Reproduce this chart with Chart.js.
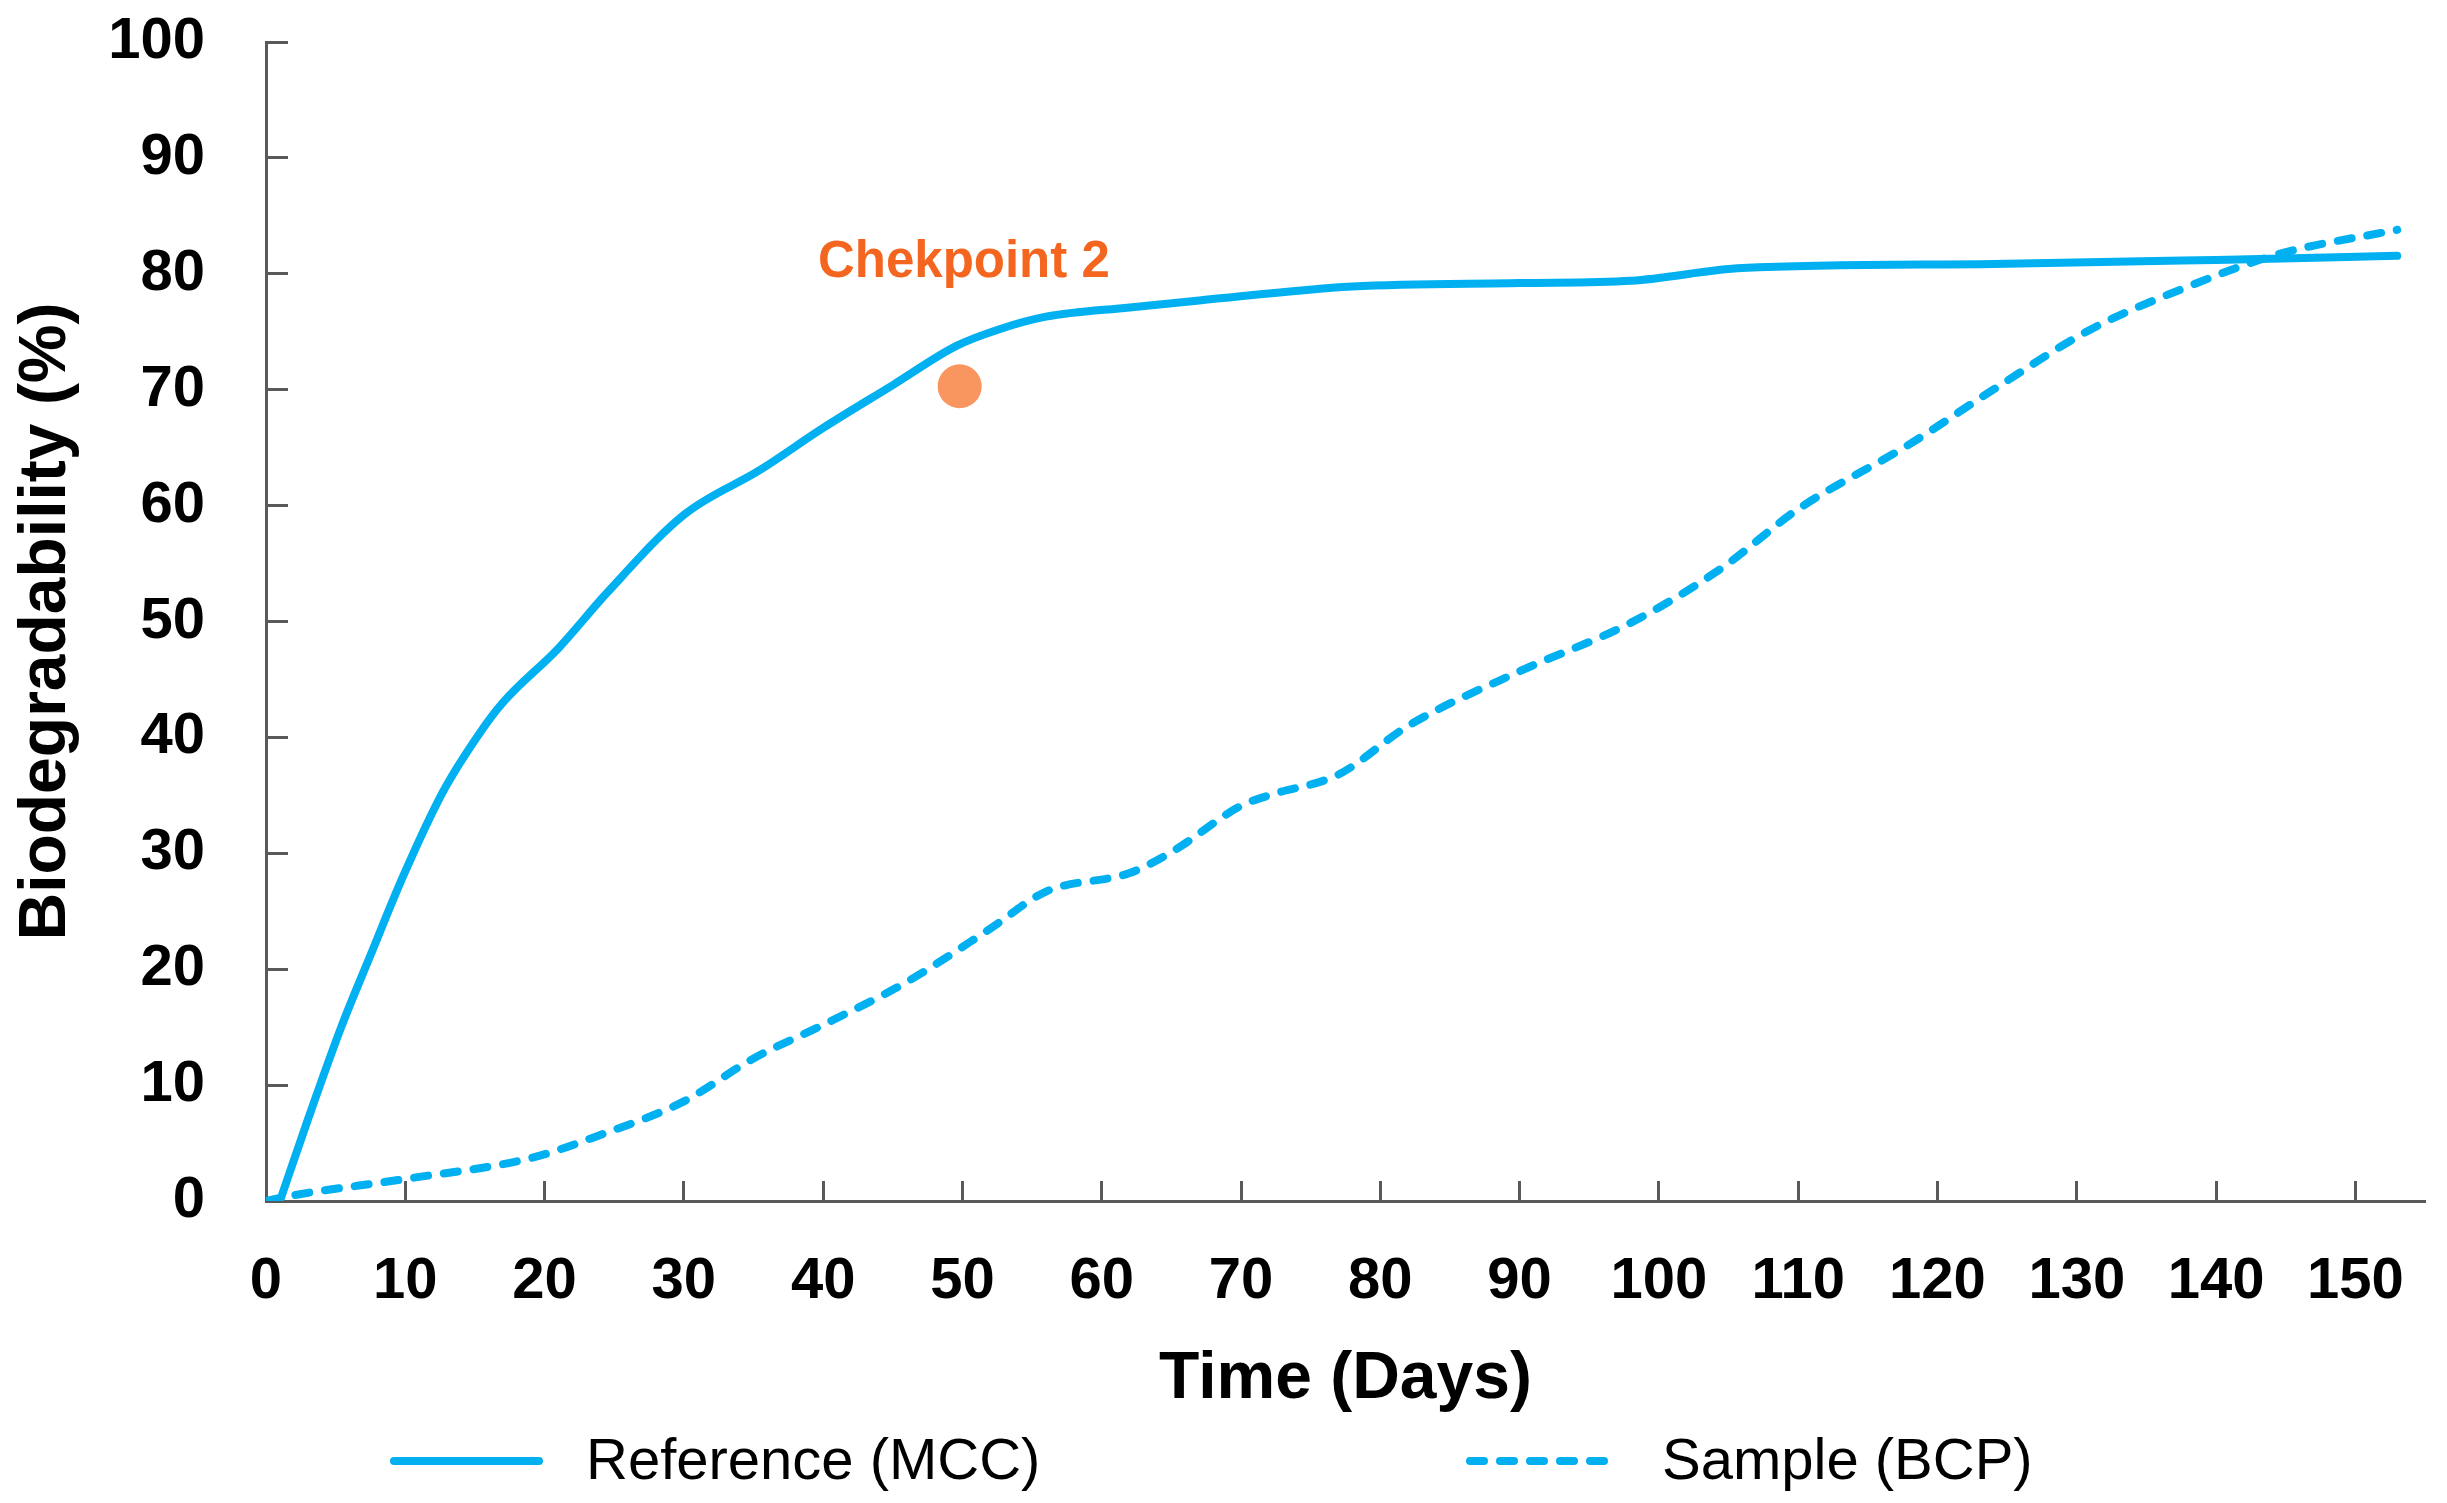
<!DOCTYPE html>
<html>
<head>
<meta charset="utf-8">
<title>Biodegradability</title>
<script src="https://cdn.jsdelivr.net/npm/chart.js@4.4.1/dist/chart.umd.min.js"></script>
<style>
  html, body { margin: 0; padding: 0; background: #fff; }
  canvas { display: block; }
</style>
</head>
<body>
<canvas id="chart" width="2447" height="1503"></canvas>
<script>
'use strict';

// values
const mccDays = [1, 3, 5.4, 7.5, 9.8, 12.7, 15.3, 17, 21, 24.5, 30, 35.5, 40, 45, 49.6, 52.6, 56, 62, 67, 78, 90, 98, 106, 124, 140, 153];
const mccValues = [0, 7, 15, 21.2, 27.9, 35.3, 40.3, 43, 47.7, 52.5, 59.2, 63.1, 66.7, 70.4, 73.8, 75.2, 76.3, 77.1, 77.7, 78.9, 79.2, 79.4, 80.5, 80.85, 81.2, 81.55];

const bcpDays = [0, 2, 10, 19, 24, 30, 35, 40, 46, 52, 56, 62, 65, 70, 72, 77, 82, 90, 98, 104.5, 110, 118, 124, 131, 138, 144.5, 153];
const bcpValues = [0, 0.5, 1.9, 3.7, 5.7, 8.6, 12.3, 15.2, 18.9, 23.5, 26.7, 28.3, 30.1, 34.1, 35, 36.8, 41, 45.7, 49.9, 54.6, 59.7, 65.3, 70, 75.2, 78.9, 81.7, 83.8];

const checkpointDays = [49.8];
const checkpointValues = [70.3];
const checkpointText = 'Chekpoint 2';
const checkpointTextAt = [50.1, 79.7];

const seriesNames = ['Reference (MCC)', 'Sample (BCP)'];
const xTitle = 'Time (Days)';
const yTitle = 'Biodegradability (%)';

const blue = '#00B0F0';
const axisGrey = '#595959';
const legendStart = [394, 1470];

const toPoints = (xs, ys) => xs.map((x, i) => ({ x: x, y: ys[i] }));

// "Chekpoint 2" label placed in data space
const checkpointLabel = {
  id: 'checkpointLabel',
  afterDatasetsDraw(chart) {
    const ctx = chart.ctx;
    const x = chart.scales.x.getPixelForValue(checkpointTextAt[0]);
    const y = chart.scales.y.getPixelForValue(checkpointTextAt[1]);
    ctx.save();
    ctx.fillStyle = '#F4661F';
    ctx.font = 'bold 51px "Liberation Sans"';
    ctx.textAlign = 'center';
    ctx.textBaseline = 'alphabetic';
    ctx.fillText(checkpointText, x, y);
    ctx.restore();
  }
};

// legend with line samples, spaced like the original
const lineLegend = {
  id: 'lineLegend',
  afterDraw(chart) {
    const ctx = chart.ctx;
    const y = chart.scales.x.bottom + 42;
    chart.data.datasets.forEach((ds, i) => {
      if (!ds.label) return;
      const x = legendStart[i];
      ctx.save();
      ctx.strokeStyle = ds.borderColor;
      ctx.lineWidth = ds.borderWidth;
      ctx.lineCap = 'round';
      ctx.setLineDash(ds.borderDash || []);
      ctx.beginPath();
      ctx.moveTo(x, y);
      ctx.lineTo(x + 145, y);
      ctx.stroke();
      ctx.setLineDash([]);
      ctx.fillStyle = '#000';
      ctx.font = '58px "Liberation Sans"';
      ctx.textBaseline = 'middle';
      ctx.fillText(ds.label, x + 192, y + 2);
      ctx.restore();
    });
  }
};

new Chart(document.getElementById('chart'), {
  type: 'line',
  data: {
    datasets: [{
      label: seriesNames[0],
      data: toPoints(mccDays, mccValues),
      borderColor: blue,
      borderWidth: 8,
      pointRadius: 0,
      cubicInterpolationMode: 'monotone',
      borderCapStyle: 'round'
    }, {
      label: seriesNames[1],
      data: toPoints(bcpDays, bcpValues),
      borderColor: blue,
      borderWidth: 8,
      borderDash: [14, 16],
      borderCapStyle: 'round',
      pointRadius: 0,
      cubicInterpolationMode: 'monotone'
    }, {
      type: 'scatter',
      label: '',
      data: toPoints(checkpointDays, checkpointValues),
      backgroundColor: '#F9955E',
      borderWidth: 0,
      pointRadius: 22,
      pointHoverRadius: 22
    }]
  },
  options: {
    responsive: false,
    animation: false,
    devicePixelRatio: 1,
    layout: {
      padding: { top: 42, right: 15, bottom: 84, left: 0 }
    },
    plugins: {
      legend: { display: false },
      tooltip: { enabled: false }
    },
    scales: {
      x: {
        type: 'linear',
        min: 0,
        max: 155,
        afterFit(scale) {
          scale.height = 218;
          scale.paddingLeft = 0;
          scale.paddingRight = 0;
        },
        border: { color: axisGrey, width: 3 },
        grid: { drawOnChartArea: false, color: axisGrey, tickLength: -20, tickWidth: 3 },
        ticks: {
          stepSize: 10,
          includeBounds: false,
          padding: 66,
          color: '#000',
          font: { family: 'Liberation Sans', size: 58, weight: 'bold' }
        },
        title: {
          display: true,
          text: xTitle,
          color: '#000',
          padding: { top: 22, bottom: 0 },
          font: { family: 'Liberation Sans', size: 66, weight: 'bold' }
        }
      },
      y: {
        min: 0,
        max: 100,
        afterFit(scale) {
          scale.width = 266;
          scale.paddingTop = 0;
          scale.paddingBottom = 0;
        },
        border: { color: axisGrey, width: 3 },
        grid: { drawOnChartArea: false, color: axisGrey, tickLength: -22, tickWidth: 3 },
        ticks: {
          stepSize: 10,
          padding: 83,
          color: '#000',
          font: { family: 'Liberation Sans', size: 58, weight: 'bold' }
        },
        title: {
          display: true,
          text: yTitle,
          color: '#000',
          padding: { top: 7, bottom: 20 },
          font: { family: 'Liberation Sans', size: 66, weight: 'bold' }
        }
      }
    }
  },
  plugins: [checkpointLabel, lineLegend]
});
</script>
</body>
</html>
